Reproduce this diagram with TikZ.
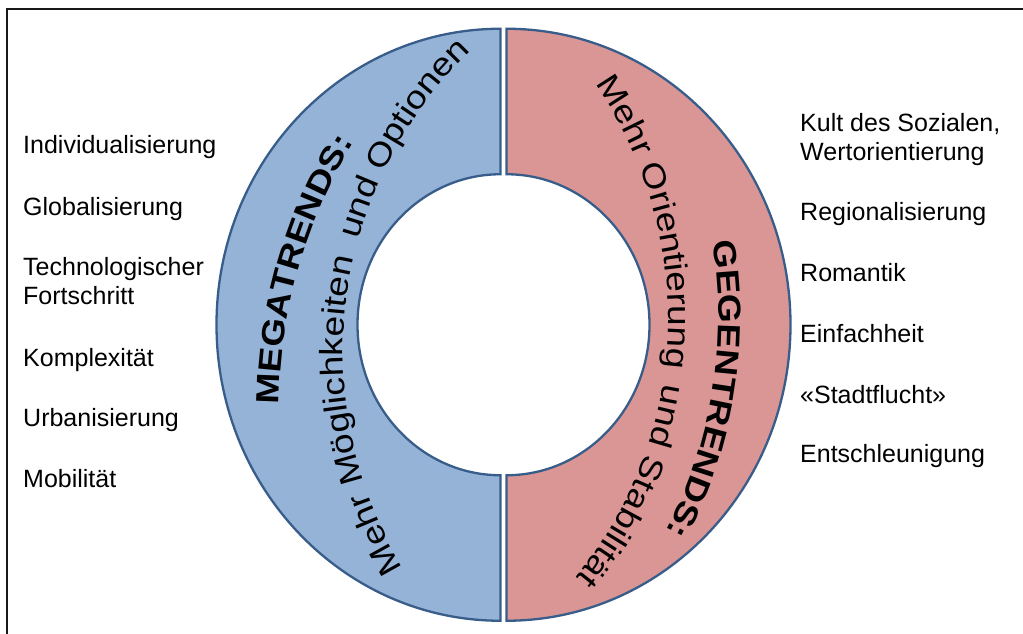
\documentclass[tikz,border=0pt]{standalone}
\usepackage{fontspec}
\setmainfont{Liberation Sans}
\newfontfamily\ringfont[FakeStretch=1.16]{Liberation Sans}
\usetikzlibrary{decorations.text}
\definecolor{megablue}{HTML}{95B3D7}
\definecolor{gegenred}{HTML}{D99694}
\definecolor{ringline}{HTML}{385D8A}
\newcommand{\ringtitle}{\ringfont\bfseries\fontsize{32}{38}\selectfont}
\newcommand{\ringsub}{\ringfont\fontsize{32}{38}\selectfont}

\begin{document}
\begin{tikzpicture}[x=1pt,y=1pt,
  every node/.style={font=\fontsize{25}{29.5}\selectfont,inner sep=0pt,anchor=base west,align=left},
  halfring/.style={draw=ringline,line width=2.3pt}]
  \useasboundingbox (0,0) rectangle (1023,633);
  % frame
  \draw[line width=2pt,black!90] (7,-5) -- (7,624) -- (1030,624);
  % the two half rings
  \draw[halfring,fill=megablue] (500.5,604.25) arc[start angle=90,end angle=270,x radius=284,y radius=296]
    -- (500.5,157.75) arc[start angle=270,end angle=90,x radius=143,y radius=150.5] -- cycle;
  \draw[halfring,fill=gegenred] (506.5,604.25) arc[start angle=90,end angle=-90,x radius=284,y radius=296]
    -- (506.5,157.75) arc[start angle=-90,end angle=90,x radius=143,y radius=150.5] -- cycle;
  % arched texts
  \coordinate (megac) at (790,224);
  \coordinate (megasubc) at (760,281);
  \coordinate (gegenc) at (258.4,315.2);
  \path[decorate,decoration={text along path,text align=center,text={|\ringtitle|MEGATRENDS:}}]
    (megac) ++(184:511) arc[start angle=184,end angle=144,radius=511];
  \path[decorate,decoration={text along path,text align=center,text={|\ringsub|Mehr Möglichkeiten {\kern8pt}und Optionen}}]
    (megasubc) ++(215:417) arc[start angle=215,end angle=130,radius=417];
  \path[decorate,decoration={text along path,text align=center,text={|\ringtitle|GEGENTRENDS:}}]
    (gegenc) ++(15:460) arc[start angle=15,end angle=-33.2,radius=460];
  \path[decorate,decoration={text along path,text align=center,text={|\ringsub|Mehr Orientierung {\kern6pt}und Stabilität}}]
    (gegenc) ++(40:410) arc[start angle=40,end angle=-44.4,radius=410];
  % megatrends
  \node (indiv) at (23,479) {Individualisierung};
  \node (glob) at (23,417) {Globalisierung};
  \node (tech) at (23,328) {Technologischer\\Fortschritt};
  \node (kompl) at (23,267) {Komplexität};
  \node (urban) at (23,207) {Urbanisierung};
  \node (mobil) at (23,146) {Mobilität};
  % gegentrends
  \node (kult) at (800,472) {Kult des Sozialen,\\Wertorientierung};
  \node (region) at (800,412) {Regionalisierung};
  \node (romant) at (800,352) {Romantik};
  \node (einf) at (800,291) {Einfachheit};
  \node (stadt) at (800,230) {«Stadtflucht»};
  \node (entsch) at (800,171) {Entschleunigung};
\end{tikzpicture}
\end{document}
